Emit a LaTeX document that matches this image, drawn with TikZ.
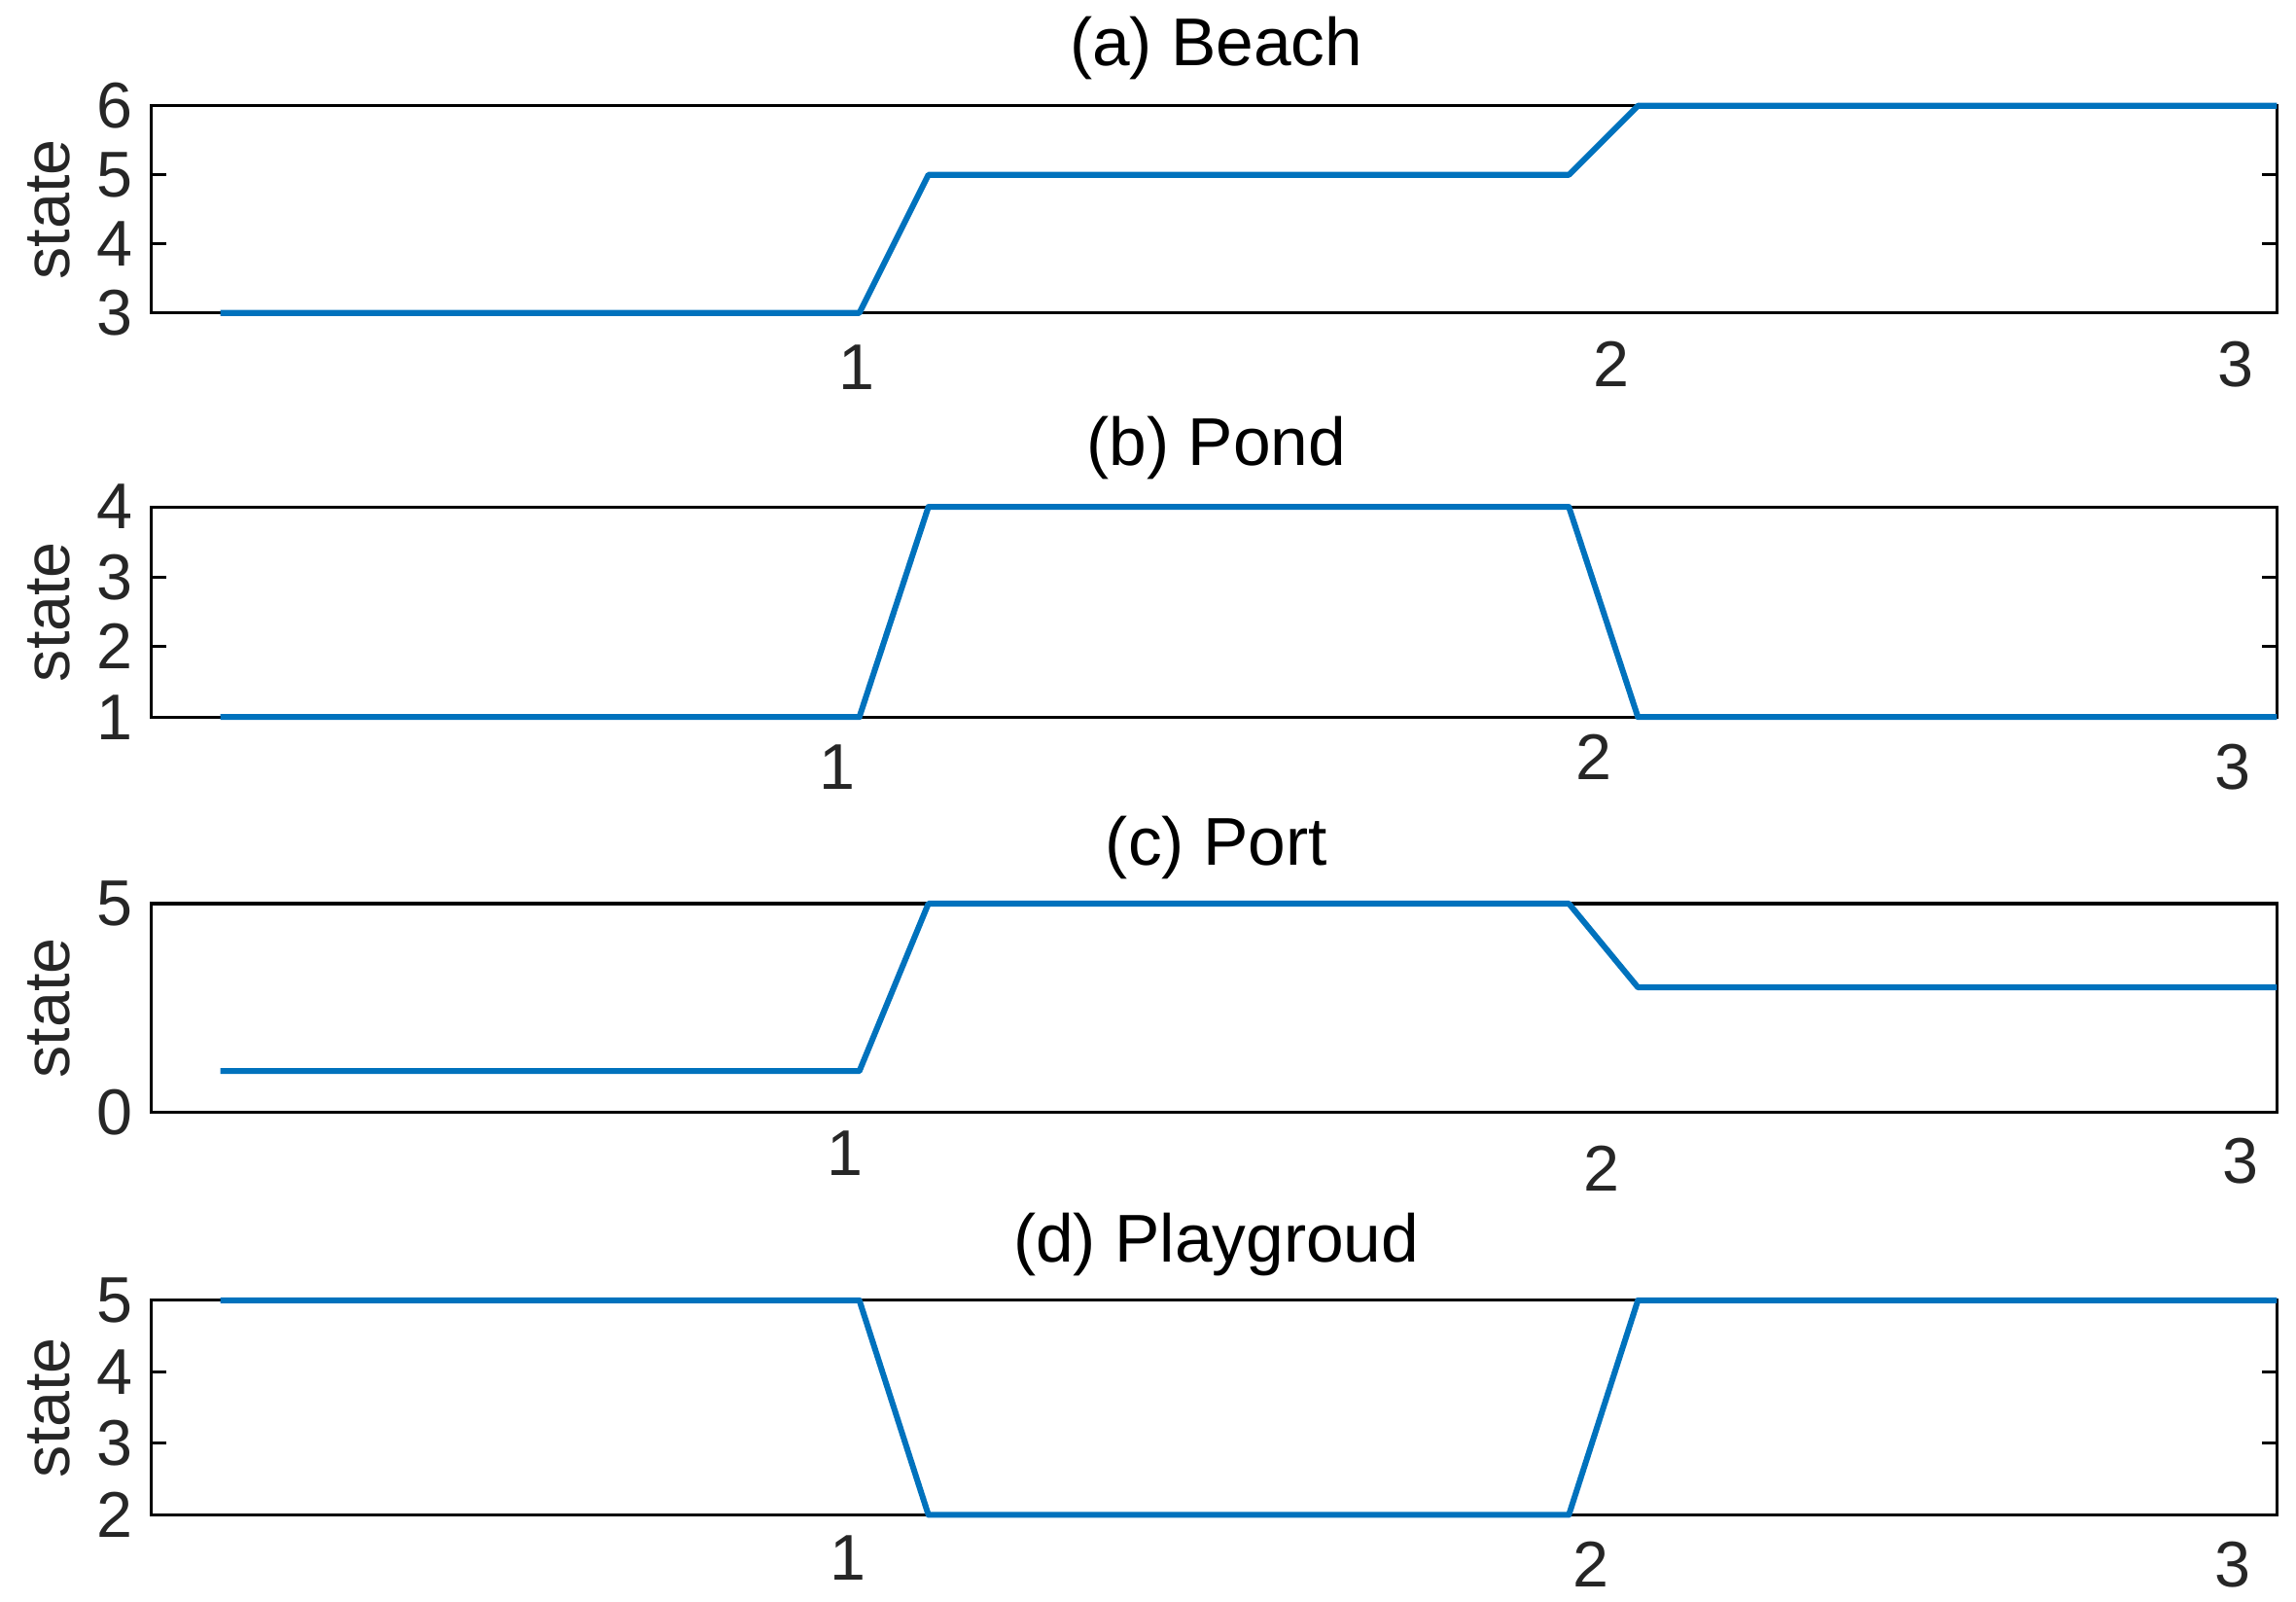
\documentclass[tikz,border=0pt]{standalone}
\usepackage{fontspec}
\setmainfont{Liberation Sans}
\definecolor{mblue}{RGB}{0,114,189}
\definecolor{tgray}{RGB}{38,38,38}
\begin{document}
\begin{tikzpicture}[x=0.5pt,y=-0.5pt,
  lbl/.style={font=\fontsize{22}{24}\selectfont,text=tgray,inner sep=0pt},
  ttl/.style={font=\fontsize{23}{25}\selectfont,text=black,inner sep=0pt},
  sig/.style={mblue,line width=2pt,line join=round},
  box/.style={black,line width=1pt}]
\useasboundingbox (0,0) rectangle (1563,1090);
\newcommand{\mypanel}[2]{%
  \draw[box] (103,#1) rectangle (1550,#2);
  \node[lbl,rotate=90] at (33,{(#1+#2)/2}) {state};}
% (a)
\mypanel{72}{213}
\node[ttl] (ta) at (828,33) {(a) Beach};
\foreach \v/\y in {6/72,5/119,4/166,3/213}{\node[lbl] at (78,\y) {\v};
  \draw[box] (103,\y) -- (113,\y); \draw[box] (1540,\y) -- (1550,\y);}
\node[lbl] at (583,250) {1};\node[lbl] at (1097,248) {2};\node[lbl] at (1522,248) {3};
\draw[sig] (150,213) -- (585,213) -- (632,119) -- (1068,119) -- (1115,72) -- (1550,72);
% (b)
\mypanel{345}{488}
\node[ttl] (tb) at (828,305) {(b) Pond};
\foreach \v/\y in {4/345,3/393,2/440,1/488}{\node[lbl] at (78,\y) {\v};
  \draw[box] (103,\y) -- (113,\y); \draw[box] (1540,\y) -- (1550,\y);}
\node[lbl] at (570,522) {1};\node[lbl] at (1085,515) {2};\node[lbl] at (1520,522) {3};
\draw[sig] (150,488) -- (585,488) -- (632,345) -- (1068,345) -- (1115,488) -- (1550,488);
% (c)
\mypanel{615}{757}
\node[ttl] (tc) at (828,577) {(c) Port};
\foreach \v/\y in {5/615,0/757}{\node[lbl] at (78,\y) {\v};
  \draw[box] (103,\y) -- (113,\y); \draw[box] (1540,\y) -- (1550,\y);}
\node[lbl] at (575,785) {1};\node[lbl] at (1090,795) {2};\node[lbl] at (1525,790) {3};
\draw[sig] (150,729) -- (585,729) -- (632,615) -- (1068,615) -- (1115,672) -- (1550,672);
% (d)
\mypanel{885}{1031}
\node[ttl] (td) at (828,847) {(d) Playgroud};
\foreach \v/\y in {5/885,4/934,3/982,2/1031}{\node[lbl] at (78,\y) {\v};
  \draw[box] (103,\y) -- (113,\y); \draw[box] (1540,\y) -- (1550,\y);}
\node[lbl] at (577,1060) {1};\node[lbl] at (1083,1065) {2};\node[lbl] at (1520,1065) {3};
\draw[sig] (150,885) -- (585,885) -- (632,1031) -- (1068,1031) -- (1115,885) -- (1550,885);
\end{tikzpicture}
\end{document}
